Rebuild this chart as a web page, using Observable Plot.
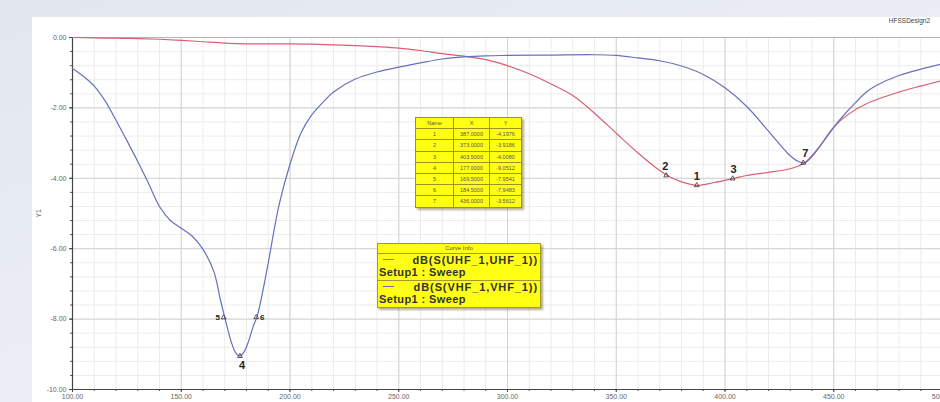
<!DOCTYPE html>
<html><head><meta charset="utf-8">
<script src="https://cdn.jsdelivr.net/npm/d3@7"></script>
<script src="https://cdn.jsdelivr.net/npm/@observablehq/plot@0.6"></script>
<style>
body{margin:0;width:940px;height:402px;overflow:hidden;position:relative;
  background:linear-gradient(160deg,#e2e6ee 0%,#eceff5 60%,#f1f3f7 100%);
  font-family:"Liberation Sans",Arial,sans-serif;}
#panel{position:absolute;left:32px;top:17px;width:908px;height:385px;background:#fff;}
#chart{position:absolute;left:0;top:0;width:915px;}
#chart svg{max-width:none !important;}
#design{position:absolute;right:10px;top:0px;font-size:6.5px;color:#444;line-height:8px;}
#mtable{position:absolute;left:383px;top:100px;border-collapse:collapse;background:#ffff14;
  box-shadow:2px 2px 2px rgba(90,80,0,0.45);font-size:5.5px;color:#555;}
#mtable td{border:1px solid #9c9420;height:10.2px;padding:0;text-align:center;line-height:8px;}
#cinfo{position:absolute;left:345px;top:226px;width:162px;height:63px;background:#ffff14;
  border:1px solid #a09a30;box-shadow:2px 2px 2px rgba(90,80,0,0.45);color:#333;}
#cinfo .hdr{font-size:6px;text-align:center;height:9px;line-height:9px;border-bottom:1px solid #a09a30;color:#555;}
#cinfo .row{position:relative;height:26px;border-bottom:1px solid #a09a30;}
#cinfo .row:last-child{border-bottom:none;}
#cinfo .nm{position:absolute;right:2px;top:1px;font-size:11px;font-weight:bold;line-height:11px;letter-spacing:0.9px;white-space:nowrap;}
#cinfo .st{position:absolute;left:1px;top:13px;font-size:11px;font-weight:bold;line-height:11px;letter-spacing:0.4px;white-space:nowrap;}
#cinfo .sw{position:absolute;left:5px;top:5px;width:11px;height:0;border-top:1.3px solid;}
</style>
</head><body>
<div id="panel">
  <div id="chart"></div>
  <div id="design"></div>
  <div id="mtable-wrap"></div>
  <div id="cinfo-wrap"></div>
</div>
<script>
// ---------- data ----------
const xTicks = [100, 150, 200, 250, 300, 350, 400, 450, 500];
const yTicks = [0, -2, -4, -6, -8, -10];
const yLabel = "Y1";
const designName = "HFSSDesign2";

const freqUHF = [100,110,120,130,140,150,160,170,180,190,200,210,220,230,240,250,260,270,280,290,300,310,320,330,340,350,360,370,375,380,387,395,403.5,410,420,430,436,442,450,457,465,480,490,500];
const dbUHF   = [0.00,-0.01,-0.02,-0.03,-0.05,-0.08,-0.12,-0.16,-0.18,-0.18,-0.18,-0.19,-0.21,-0.23,-0.26,-0.30,-0.37,-0.46,-0.53,-0.63,-0.80,-1.03,-1.32,-1.65,-2.15,-2.72,-3.28,-3.78,-3.97,-4.10,-4.20,-4.12,-4.01,-3.92,-3.83,-3.73,-3.58,-3.21,-2.55,-2.17,-1.88,-1.55,-1.38,-1.22];

const freqVHF = [100,105,110,115,120,125,130,135,140,145,150,155,160,165,168,170,173,175,177,179,181,183,185,188,190,195,200,205,210,215,220,230,240,250,260,270,280,290,300,320,340,350,360,370,380,390,400,410,420,425,430,434,437,440,445,450,455,460,465,470,480,490,500];
const dbVHF   = [-0.88,-1.10,-1.38,-1.80,-2.35,-2.93,-3.52,-4.15,-4.80,-5.20,-5.42,-5.64,-6.02,-6.65,-7.45,-7.95,-8.65,-8.95,-9.05,-8.92,-8.62,-8.22,-7.90,-7.05,-6.40,-4.75,-3.60,-2.72,-2.20,-1.85,-1.55,-1.18,-0.98,-0.84,-0.72,-0.61,-0.55,-0.52,-0.51,-0.50,-0.49,-0.51,-0.58,-0.66,-0.81,-1.05,-1.43,-1.96,-2.66,-3.02,-3.36,-3.53,-3.55,-3.38,-2.98,-2.55,-2.18,-1.85,-1.55,-1.35,-1.08,-0.90,-0.75];

const seriesNames = ["dB(S(UHF_1,UHF_1))", "dB(S(VHF_1,VHF_1))"];
const setupName = "Setup1 : Sweep";

const markerNames = ["1","2","3","4","5","6","7"];
const markerX = [387, 373, 403.5, 177, 169.5, 184.5, 436];
const markerY = [-4.1976, -3.9186, -4.0080, -9.0512, -7.9541, -7.9483, -3.5612];

// ---------- build ----------
const uhf = freqUHF.map((f,i)=>({f, v: dbUHF[i]}));
const vhf = freqVHF.map((f,i)=>({f, v: dbVHF[i]}));
const markers = markerNames.map((n,i)=>({n, x: markerX[i], y: markerY[i]}));
const labelOffsets = {"1":[0,-9],"2":[-1,-9],"3":[1,-9],"4":[2,9],"5":[-6,0],"6":[6,0],"7":[2,-9]};

const minorX = d3.range(100, 501, 10);
const minorY = d3.range(0, 10.01, 0.4).map(v => -v);

const RED = "#d86070", BLUE = "#6870bd";

const chart = Plot.plot({
  width: 915, height: 385,
  marginLeft: 40, marginRight: 5, marginTop: 20, marginBottom: 13,
  x: {domain: [100, 500]},
  y: {domain: [-10, 0]},
  style: {background: "transparent", fontFamily: "'Liberation Sans',Arial,sans-serif", color: "#555", overflow: "visible", maxWidth: "none"},
  marks: [
    Plot.ruleX(minorX, {stroke: "#ececec", strokeWidth: 1}),
    Plot.ruleY(minorY, {stroke: "#ececec", strokeWidth: 1}),
    Plot.ruleX(xTicks, {stroke: "#d2d2d2", strokeWidth: 1}),
    Plot.ruleY(yTicks, {stroke: "#d2d2d2", strokeWidth: 1}),
    Plot.frame({stroke: "#b5b5b5"}),
    Plot.axisX({ticks: minorX, tickSize: 2, tickFormat: null, text: null, stroke: "#555"}),
    Plot.axisY({ticks: minorY, tickSize: 2, tickFormat: null, text: null, stroke: "#555", label: null}),
    Plot.axisX({ticks: xTicks, tickSize: 3, tickPadding: 2, fontSize: 7, tickFormat: d => d.toFixed(2), label: null, stroke: "#444", fill: "#666"}),
    Plot.axisY({ticks: yTicks, tickSize: 3, tickPadding: 3, fontSize: 7, tickFormat: d => d.toFixed(2), stroke: "#444", fill: "#666",
      label: yLabel, labelAnchor: "center", labelArrow: "none", labelOffset: 36}),
    Plot.ruleY([-10], {stroke: "#444", strokeWidth: 1.2}),
    Plot.ruleX([100], {stroke: "#444", strokeWidth: 1.2}),
    Plot.line(uhf, {x: "f", y: "v", stroke: RED, strokeWidth: 1.2, curve: "catmull-rom"}),
    Plot.line(vhf, {x: "f", y: "v", stroke: BLUE, strokeWidth: 1.2, curve: "catmull-rom"}),
    Plot.dot(markers, {x: "x", y: "y", symbol: "triangle", r: 1.8, stroke: "#333", strokeWidth: 0.8, fill: "none"}),
    Plot.text(markers, {x: "x", y: "y", text: "n",
      fontSize: 11, fontWeight: "bold", fill: "#222",
      render: (index, scales, values, dims, ctx, next) => {
        const g = next(index, scales, values, dims, ctx);
        d3.select(g).selectAll("text").each(function(_, k) {
          const m = markers[index[k]];
          const [ox, oy] = labelOffsets[m.n];
          const el = d3.select(this);
          el.attr("transform", `translate(${values.x[index[k]] + ox},${values.y[index[k]] + oy})`);
          if (m.n === "5" || m.n === "6") el.attr("font-size", 8);
        });
        return g;
      }})
  ]
});
document.getElementById("chart").appendChild(chart);
document.getElementById("design").textContent = designName;

// marker table
const tbl = document.createElement("table");
tbl.id = "mtable";
const colW = [37, 35, 31];
const hdr = ["Name", "X", "Y"];
let html = "<tr>" + hdr.map((h,i)=>`<td style="width:${colW[i]}px">${h}</td>`).join("") + "</tr>";
markers.forEach(m => {
  html += `<tr><td>${m.n}</td><td>${m.x.toFixed(4)}</td><td>${m.y.toFixed(4)}</td></tr>`;
});
tbl.innerHTML = html;
document.getElementById("mtable-wrap").appendChild(tbl);

// curve info
const ci = document.createElement("div");
ci.id = "cinfo";
let ch = `<div class="hdr">Curve Info</div>`;
[RED, BLUE].forEach((c, i) => {
  ch += `<div class="row"><div class="sw" style="border-color:${c}"></div><div class="nm">${seriesNames[i]}</div><div class="st">${setupName}</div></div>`;
});
ci.innerHTML = ch;
document.getElementById("cinfo-wrap").appendChild(ci);
</script>
</body></html>
